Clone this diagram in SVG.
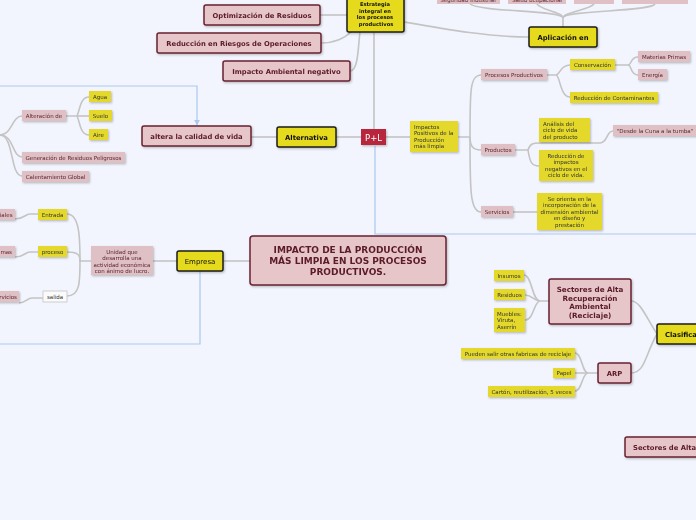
<svg xmlns="http://www.w3.org/2000/svg" width="696" height="520" viewBox="0 0 696 520">
<defs>
<style>
.bg{fill:#f2f5fd}
.c{fill:none;stroke:#c4c4c4;stroke-width:1.6}
.rel{fill:none;stroke:#a9c9f0;stroke-width:1.2}
.pm{fill:#e7c6ca;stroke:#6a2232;stroke-width:1.5}
.ym{fill:#e6da1b;stroke:#1c1c1c;stroke-width:1.5}
.ps{fill:#dfc1c5}
.ys{fill:#e4d92a}
.ws{fill:#fbfbfb;stroke:#c4c4c4;stroke-width:0.8}
.rp{fill:#b8283e}
text{font-family:"DejaVu Sans","Verdana",sans-serif}
.tm{font-size:6.8px;font-weight:bold;fill:#5b1a28;text-anchor:middle}
.ty{font-size:6.8px;font-weight:bold;fill:#111;text-anchor:middle}
.tys{font-size:5.5px;fill:#333;text-anchor:middle}
.tps{font-size:5.5px;fill:#5b2330;text-anchor:middle}
.tl{font-size:5.5px;fill:#333}
</style>
<filter id="sh" x="-10%" y="-10%" width="130%" height="140%"><feDropShadow dx="1" dy="1.2" stdDeviation="0.8" flood-color="#000" flood-opacity="0.25"/></filter>
<marker id="ar" viewBox="0 0 10 10" refX="9" refY="5" markerWidth="5" markerHeight="5" orient="auto"><path d="M0,0 L10,5 L0,10 z" fill="#a9c9f0"/></marker>
</defs>
<rect class="bg" x="0" y="0" width="696" height="520"/>

<g id="connectors">
<path class="rel" d="M375,146 L375,234 L696,234"/>
<path class="rel" d="M0,86 L197,86 L197,125" marker-end="url(#ar)"/>
<path class="rel" d="M200,271 L200,344 L0,344"/>
<path class="c" d="M250,261 L223,261"/>
<path class="c" d="M177,261 L153,261"/>
<path class="c" d="M91,261 L80,261 C80,240 80,214 67,214"/>
<path class="c" d="M80,261 C80,255 78,252 67,252"/>
<path class="c" d="M80,261 C80,282 80,296 67,296"/>
<path class="c" d="M38,214 L30,214 C25,214 24,219 15,219"/>
<path class="c" d="M38,252 L30,252 C25,252 24,257 15,257"/>
<path class="c" d="M43,298 L32,298 C27,298 26,303 19,303"/>
<path class="c" d="M347,15 L320,15"/>
<path class="c" d="M352,31 C345,38 335,43 321,43"/>
<path class="c" d="M360,31 C358,50 358,71 350,71"/>
<path class="c" d="M374,32 L374,129"/>
<path class="c" d="M404,22 C450,30 490,37 529,37"/>
<path class="c" d="M563,27 L563,18 C563,10 480,12 470,4"/>
<path class="c" d="M563,18 C563,12 540,10 537,4"/>
<path class="c" d="M563,18 C563,12 590,10 594,4"/>
<path class="c" d="M563,18 C563,10 650,12 655,4"/>
<path class="c" d="M361,137 L336,137"/>
<path class="c" d="M277,137 L251,137"/>
<path class="c" d="M386,137 L410,137"/>
<path class="c" d="M458,137 L470,137 C470,90 470,75 481,75"/>
<path class="c" d="M470,137 C470,145 472,150 481,150"/>
<path class="c" d="M470,137 C470,190 470,212 481,212"/>
<path class="c" d="M547,75 L556,75 C560,75 560,65 570,65"/>
<path class="c" d="M556,75 C560,75 560,97 570,97"/>
<path class="c" d="M615,65 L628,65 C632,65 630,57 638,57"/>
<path class="c" d="M628,65 C632,65 630,75 638,75"/>
<path class="c" d="M515,150 L528,150 C530,144 532,143 540,143 L600,143 C608,143 606,131 613,131"/>
<path class="c" d="M528,150 C530,163 532,166 539,166"/>
<path class="c" d="M513,212 L537,212"/>
<path class="c" d="M0,135 C12,135 12,116 22,116"/>
<path class="c" d="M0,135 C14,135 12,157 22,157"/>
<path class="c" d="M0,135 C14,135 10,176 22,176"/>
<path class="c" d="M66,116 L77,116 C80,110 80,97 89,97"/>
<path class="c" d="M77,116 L89,116"/>
<path class="c" d="M77,116 C80,122 80,135 89,135"/>
<path class="c" d="M657,334 C645,315 640,301 631,301"/>
<path class="c" d="M657,334 C645,355 645,373 631,373"/>
<path class="c" d="M549,301 L540,301 C532,301 532,275 524,275"/>
<path class="c" d="M540,301 C534,301 532,295 525,295"/>
<path class="c" d="M540,301 C534,301 534,320 525,320"/>
<path class="c" d="M598,373 L588,373 C582,373 582,353 575,353"/>
<path class="c" d="M588,373 L575,373"/>
<path class="c" d="M588,373 C582,373 582,391 575,391"/>
</g>

<g id="top-clipped">
<rect class="ps" x="437" y="-8" width="63" height="12"/>
<text class="tps" x="468" y="1.5">Seguridad Industrial</text>
<rect class="ps" x="508" y="-8" width="58" height="12"/>
<text class="tps" x="537" y="1.5">Salud ocupacional</text>
<rect class="ps" x="574" y="-8" width="40" height="12"/>
<rect class="ps" x="622" y="-8" width="66" height="12"/>
</g>

<g id="central" filter="url(#sh)">
<rect class="pm" x="250" y="236" width="196" height="49" rx="3"/>
<text class="tm" x="348" y="253" style="font-size:9px">IMPACTO DE LA PRODUCCIÓN</text>
<text class="tm" x="348" y="264" style="font-size:9px">MÁS LIMPIA EN LOS PROCESOS</text>
<text class="tm" x="348" y="275" style="font-size:9px">PRODUCTIVOS.</text>
</g>

<g id="estrategia" filter="url(#sh)">
<rect class="ym" x="347" y="-3" width="57" height="35" rx="2"/>
<text class="ty" style="font-size:5.2px" x="375" y="6">Estrategia</text>
<text class="ty" style="font-size:5.2px" x="375" y="12.5">integral en</text>
<text class="ty" style="font-size:5.2px" x="375" y="19">los procesos</text>
<text class="ty" style="font-size:5.2px" x="376" y="25.5">productivos</text>
</g>
<g id="optimizacion" filter="url(#sh)">
<rect class="pm" x="204" y="5" width="116" height="20" rx="2"/>
<text class="tm" x="262" y="17.5">Optimización de Residuos</text>
</g>
<g id="reduccion-riesgos" filter="url(#sh)">
<rect class="pm" x="157" y="33" width="164" height="20" rx="2"/>
<text class="tm" x="239" y="45.5">Reducción en Riesgos de Operaciones</text>
</g>
<g id="impacto-negativo" filter="url(#sh)">
<rect class="pm" x="223" y="61" width="127" height="20" rx="2"/>
<text class="tm" x="286.5" y="73.5">Impacto Ambiental negativo</text>
</g>
<g id="aplicacion" filter="url(#sh)">
<rect class="ym" x="529" y="27" width="68" height="20" rx="2"/>
<text class="ty" x="563" y="39.5">Aplicación en</text>
</g>

<g id="alternativa" filter="url(#sh)">
<rect class="ym" x="277" y="127" width="59" height="20" rx="2"/>
<text class="ty" x="306.5" y="139.5">Alternativa</text>
</g>
<g id="altera" filter="url(#sh)">
<rect class="pm" x="142" y="126" width="109" height="20" rx="2"/>
<text class="tm" x="196.5" y="138.5">altera la calidad de vida</text>
</g>
<g id="pl" filter="url(#sh)">
<rect class="rp" x="361" y="129" width="25" height="16"/>
<text x="373.5" y="140.5" font-size="8.5" fill="#fff" text-anchor="middle">P+L</text>
</g>
<g id="impactos-positivos" filter="url(#sh)">
<rect class="ys" x="410" y="121" width="48" height="31"/>
<text class="tl" x="414" y="128.5">Impactos</text>
<text class="tl" x="414" y="135">Positivos de la</text>
<text class="tl" x="414" y="141.5">Producción</text>
<text class="tl" x="414" y="148">más limpia</text>
</g>

<g id="procesos-productivos" filter="url(#sh)">
<rect class="ps" x="481" y="69" width="66" height="11"/>
<text class="tps" x="514" y="76.8">Procesos Productivos</text>
</g>
<g id="conservacion" filter="url(#sh)">
<rect class="ys" x="570" y="59" width="45" height="11"/>
<text class="tys" x="592.5" y="66.8">Conservación</text>
</g>
<g id="materias-primas" filter="url(#sh)">
<rect class="ps" x="638" y="51" width="52" height="11"/>
<text class="tps" x="664" y="58.8">Materias Primas</text>
</g>
<g id="energia" filter="url(#sh)">
<rect class="ps" x="638" y="69" width="29" height="11"/>
<text class="tps" x="652.5" y="76.8">Energía</text>
</g>
<g id="reduccion-contaminantes" filter="url(#sh)">
<rect class="ys" x="570" y="92" width="88" height="11"/>
<text class="tys" x="614" y="99.8">Reducción de Contaminantes</text>
</g>

<g id="productos" filter="url(#sh)">
<rect class="ps" x="481" y="144" width="34" height="11"/>
<text class="tps" x="498" y="151.8">Productos</text>
</g>
<g id="analisis" filter="url(#sh)">
<rect class="ys" x="539" y="118" width="51" height="24"/>
<text class="tl" x="543" y="125.5">Análisis del</text>
<text class="tl" x="543" y="132">ciclo de vida</text>
<text class="tl" x="543" y="138.5">del producto</text>
</g>
<g id="desde-cuna" filter="url(#sh)">
<rect class="ps" x="613" y="125" width="84" height="11"/>
<text class="tps" x="655" y="132.8">"Desde la Cuna a la tumba"</text>
</g>
<g id="reduccion-impactos" filter="url(#sh)">
<rect class="ys" x="539" y="150" width="54" height="31"/>
<text class="tys" x="566" y="157.5">Reducción de</text>
<text class="tys" x="566" y="164">impactos</text>
<text class="tys" x="566" y="170.5">negativos en el</text>
<text class="tys" x="566" y="177">ciclo de vida.</text>
</g>
<g id="servicios" filter="url(#sh)">
<rect class="ps" x="481" y="206" width="32" height="11"/>
<text class="tps" x="497" y="213.8">Servicios</text>
</g>
<g id="se-orienta" filter="url(#sh)">
<rect class="ys" x="537" y="193" width="65" height="37"/>
<text class="tys" x="569.5" y="200.5">Se orienta en la</text>
<text class="tys" x="569.5" y="207">incorporación de la</text>
<text class="tys" x="569.5" y="213.5">dimensión ambiental</text>
<text class="tys" x="569.5" y="220">en diseño y</text>
<text class="tys" x="569.5" y="226.5">prestación</text>
</g>

<g id="alteracion" filter="url(#sh)">
<rect class="ps" x="22" y="110" width="44" height="11"/>
<text class="tps" x="44" y="117.8">Alteración de</text>
</g>
<g id="agua" filter="url(#sh)">
<rect class="ys" x="89" y="91" width="22" height="11"/>
<text class="tys" x="100" y="98.8">Agua</text>
</g>
<g id="suelo" filter="url(#sh)">
<rect class="ys" x="89" y="110" width="23" height="11"/>
<text class="tys" x="100.5" y="117.8">Suelo</text>
</g>
<g id="aire" filter="url(#sh)">
<rect class="ys" x="89" y="129" width="19" height="11"/>
<text class="tys" x="98.5" y="136.8">Aire</text>
</g>
<g id="residuos-peligrosos" filter="url(#sh)">
<rect class="ps" x="22" y="152" width="103" height="11"/>
<text class="tps" x="73.5" y="159.8">Generación de Residuos Peligrosos</text>
</g>
<g id="calentamiento" filter="url(#sh)">
<rect class="ps" x="22" y="171" width="67" height="11"/>
<text class="tps" x="55.5" y="178.8">Calentamiento Global</text>
</g>

<g id="empresa" filter="url(#sh)">
<rect class="ym" x="177" y="251" width="46" height="20" rx="2"/>
<text x="200" y="263.5" font-size="7" fill="#111" text-anchor="middle">Empresa</text>
</g>
<g id="unidad" filter="url(#sh)">
<rect class="ps" x="91" y="246" width="62" height="29"/>
<text class="tps" x="122" y="254">Unidad que</text>
<text class="tps" x="122" y="260.3">desarrolla una</text>
<text class="tps" x="122" y="266.6">actividad económica</text>
<text class="tps" x="122" y="272.9">con ánimo de lucro.</text>
</g>
<g id="entrada" filter="url(#sh)">
<rect class="ys" x="38" y="209" width="29" height="11"/>
<text class="tys" x="52.5" y="216.8">Entrada</text>
</g>
<g id="proceso" filter="url(#sh)">
<rect class="ys" x="38" y="246" width="29" height="11"/>
<text class="tys" x="52.5" y="253.8">proceso</text>
</g>
<g id="salida">
<rect class="ws" x="43" y="291" width="24" height="11"/>
<text class="tys" x="55" y="298.8">salida</text>
</g>
<g id="materiales" filter="url(#sh)">
<rect class="ps" x="-40" y="209" width="55" height="11"/>
<text class="tps" x="12.5" y="216.8" style="text-anchor:end">Materiales</text>
</g>
<g id="materias" filter="url(#sh)">
<rect class="ps" x="-40" y="246" width="55" height="11"/>
<text class="tps" x="12" y="253.8" style="text-anchor:end">Materias Primas</text>
</g>
<g id="servicios-left" filter="url(#sh)">
<rect class="ps" x="-40" y="291" width="59" height="11"/>
<text class="tps" x="17" y="298.8" style="text-anchor:end">Productos y servicios</text>
</g>

<g id="sectores-alta" filter="url(#sh)">
<rect class="pm" x="549" y="279" width="82" height="45" rx="2"/>
<text class="tm" x="590" y="292" style="font-size:7.2px">Sectores de Alta</text>
<text class="tm" x="590" y="300.5" style="font-size:7.2px">Recuperación</text>
<text class="tm" x="590" y="309" style="font-size:7.2px">Ambiental</text>
<text class="tm" x="590" y="317.5" style="font-size:7.2px">(Reciclaje)</text>
</g>
<g id="insumos" filter="url(#sh)">
<rect class="ys" x="494" y="270" width="30" height="11"/>
<text class="tys" x="509" y="277.8">Insumos</text>
</g>
<g id="residuos" filter="url(#sh)">
<rect class="ys" x="494" y="289" width="31" height="11"/>
<text class="tys" x="509.5" y="296.8">Residuos</text>
</g>
<g id="muebles" filter="url(#sh)">
<rect class="ys" x="494" y="308" width="31" height="24"/>
<text class="tl" x="497" y="315.5">Muebles:</text>
<text class="tl" x="497" y="322">Viruta,</text>
<text class="tl" x="497" y="328.5">Aserrín</text>
</g>
<g id="clasifica" filter="url(#sh)">
<rect class="ym" x="657" y="324" width="50" height="20" rx="2"/>
<text class="ty" x="665" y="336.5" style="text-anchor:start">Clasificación</text>
</g>
<g id="arp" filter="url(#sh)">
<rect class="pm" x="598" y="363" width="33" height="20" rx="2"/>
<text class="tm" x="614.5" y="375.5">ARP</text>
</g>
<g id="pueden" filter="url(#sh)">
<rect class="ys" x="461" y="348" width="114" height="11"/>
<text class="tys" x="518" y="355.8">Pueden salir otras fabricas de reciclaje</text>
</g>
<g id="papel" filter="url(#sh)">
<rect class="ys" x="553" y="368" width="22" height="10"/>
<text class="tys" x="564" y="375.3">Papel</text>
</g>
<g id="carton" filter="url(#sh)">
<rect class="ys" x="488" y="386" width="87" height="11"/>
<text class="tys" x="531.5" y="393.8">Cartón, reutilización, 5 veces</text>
</g>
<g id="sectores-alta-2" filter="url(#sh)">
<rect class="pm" x="625" y="437" width="90" height="20" rx="2"/>
<text class="tm" x="633" y="449.5" style="text-anchor:start">Sectores de Alta</text>
</g>
</svg>
